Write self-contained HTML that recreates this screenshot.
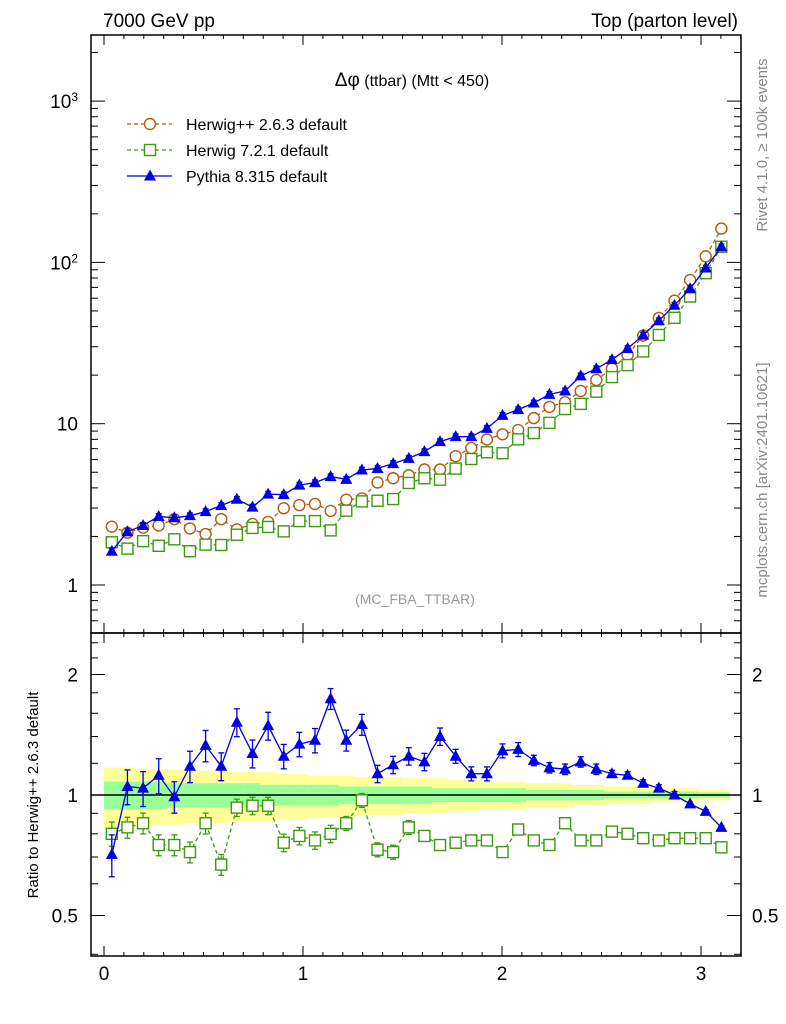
<!DOCTYPE html>
<html><head><meta charset="utf-8"><style>
body{margin:0;background:#fff;}
svg{display:block;font-family:"Liberation Sans",Arial,sans-serif;}
</style></head><body>
<svg id="chart" width="786" height="1024" viewBox="0 0 786 1024"></svg>
<script>
// ---- data ----
const nBins = 40;
const herwigPP = [2.30,2.11,2.27,2.34,2.56,2.24,2.07,2.56,2.21,2.39,2.46,2.99,3.13,3.18,2.88,3.38,3.44,4.32,4.59,4.79,5.20,5.20,6.29,7.06,7.98,8.60,9.13,10.83,12.71,13.59,15.96,18.67,21.97,26.60,35.21,45.26,57.91,77.74,109.0,162.0];
const herwig7 = [1.84,1.68,1.87,1.75,1.92,1.62,1.78,1.77,2.05,2.26,2.29,2.15,2.49,2.49,2.18,2.89,3.30,3.33,3.41,4.29,4.59,4.50,5.27,6.04,6.65,6.56,8.00,8.75,10.12,12.32,13.27,15.80,19.45,23.09,28.05,35.48,45.33,61.47,85.79,125.0];
const pythia = [1.62,2.14,2.34,2.66,2.61,2.69,2.85,3.11,3.40,3.04,3.66,3.63,4.16,4.31,4.70,4.52,5.16,5.28,5.66,6.10,6.71,7.74,8.31,8.31,9.35,11.26,12.22,13.44,15.21,15.96,19.78,21.93,24.95,29.23,35.43,43.45,54.26,68.67,92.24,125.0];
const ratioPythia = [0.71,1.05,1.04,1.12,0.99,1.18,1.33,1.18,1.52,1.27,1.49,1.25,1.34,1.37,1.74,1.37,1.50,1.13,1.19,1.25,1.21,1.40,1.25,1.13,1.13,1.29,1.30,1.22,1.17,1.16,1.21,1.16,1.13,1.12,1.07,1.04,1.00,0.95,0.91,0.83];
const ratioHerwig7 = [0.80,0.83,0.85,0.75,0.75,0.72,0.85,0.67,0.93,0.94,0.94,0.76,0.79,0.77,0.80,0.85,0.97,0.73,0.72,0.83,0.79,0.75,0.76,0.77,0.77,0.72,0.82,0.77,0.75,0.85,0.77,0.77,0.81,0.80,0.78,0.77,0.78,0.78,0.78,0.74];
const errPythia = [0.12,0.10,0.10,0.10,0.09,0.09,0.09,0.08,0.08,0.08,0.08,0.07,0.07,0.07,0.06,0.06,0.06,0.05,0.05,0.05,0.05,0.05,0.04,0.04,0.04,0.04,0.04,0.03,0.03,0.03,0.03,0.03,0.02,0.02,0.02,0.02,0.02,0.01,0.01,0.01];
const errHerwig7 = [0.07,0.06,0.06,0.06,0.06,0.06,0.06,0.06,0.05,0.05,0.05,0.05,0.05,0.05,0.05,0.04,0.04,0.04,0.04,0.04,0.03,0.03,0.03,0.03,0.03,0.03,0.03,0.02,0.02,0.02,0.02,0.02,0.02,0.02,0.01,0.01,0.01,0.01,0.01,0.01];
const bandYellow = [0.17,0.17,0.16,0.16,0.16,0.15,0.15,0.15,0.14,0.14,0.14,0.13,0.13,0.12,0.12,0.12,0.11,0.11,0.11,0.10,0.10,0.10,0.09,0.09,0.08,0.08,0.08,0.07,0.07,0.07,0.06,0.06,0.05,0.05,0.05,0.04,0.04,0.04,0.03,0.03];
const bandGreen = [0.08,0.08,0.08,0.08,0.07,0.07,0.07,0.07,0.07,0.07,0.06,0.06,0.06,0.06,0.06,0.05,0.05,0.05,0.05,0.05,0.05,0.04,0.04,0.04,0.04,0.04,0.04,0.03,0.03,0.03,0.03,0.03,0.02,0.02,0.02,0.02,0.02,0.02,0.015,0.015];
const xTicks = [0,1,2,3];
const mainTicks = [1,10,100,1000];
const mainTickLabels = ["1","10","10<tspan dy='-7' font-size='12'>2</tspan>","10<tspan dy='-7' font-size='12'>3</tspan>"];
const ratioTicks = [0.5,1,2];

// ---- geometry ----
const L=91,R=741,T1=35,B1=633,T2=633,B2=956;
const X=v=>104+v*199;
const YM=v=>585-Math.log10(v)*161.3;
const YR=v=>795-Math.log2(v)*120.5;
const binW=Math.PI/nBins;
const ctr=i=>(i+0.5)*binW;

const svg=document.getElementById('chart');
const NS='http://www.w3.org/2000/svg';
function el(tag,attrs,parent){const e=document.createElementNS(NS,tag);for(const k in attrs)e.setAttribute(k,attrs[k]);(parent||svg).appendChild(e);return e;}

// clip paths
const defs=el('defs',{});
const c1=el('clipPath',{id:'c1'},defs);el('rect',{x:L,y:T1,width:R-L,height:B1-T1},c1);
const c2=el('clipPath',{id:'c2'},defs);el('rect',{x:L,y:T2,width:R-L,height:B2-T2},c2);

// bands
const gb=el('g',{'clip-path':'url(#c2)'});


for(let i=0;i<nBins;i++){
  const x0=X(i*binW),x1=X((i+1)*binW)+0.5;
  const y=el('rect',{x:x0,y:YR(1+bandYellow[i]),width:x1-x0,height:YR(1-bandYellow[i])-YR(1+bandYellow[i]),fill:'#ffff99'},gb);
  
  
  const g=el('rect',{x:x0,y:YR(1+bandGreen[i]),width:x1-x0,height:YR(1-bandGreen[i])-YR(1+bandGreen[i]),fill:'#99ff99'},gb);
  
  
}
el('line',{x1:L,x2:R,y1:YR(1),y2:YR(1),stroke:'#000','stroke-width':1.5});

// series drawing
function series(vals,errs,Y,clip,color,dash,marker,name){
  const g=el('g',{'clip-path':clip});
  
  
  const pts=vals.map((v,i)=>X(ctr(i))+','+Y(v)).join(' ');
  const pl=el('polyline',{points:pts,fill:'none',stroke:color,'stroke-width':1.3},g);
  if(dash)pl.setAttribute('stroke-dasharray',dash);
  
  
  vals.forEach((v,i)=>{
    const x=X(ctr(i)),y=Y(v);
    if(errs){
      const e=errs[i];
      const ya=Y(v*(1+e)),yb=Y(v*(1-e));
      el('line',{x1:x,x2:x,y1:ya,y2:yb,stroke:color,'stroke-width':1.3},g);
      el('line',{x1:x-3,x2:x+3,y1:ya,y2:ya,stroke:color,'stroke-width':1.3},g);
      el('line',{x1:x-3,x2:x+3,y1:yb,y2:yb,stroke:color,'stroke-width':1.3},g);
    }
    let m;
    if(marker==='circle')m=el('circle',{cx:x,cy:y,r:5.5,fill:'#fff',stroke:color,'stroke-width':1.4},g);
    else if(marker==='square')m=el('rect',{x:x-5.5,y:y-5.5,width:11,height:11,fill:'#fff',stroke:color,'stroke-width':1.4},g);
    else m=el('polygon',{points:`${x},${y-6.5} ${x-6},${y+4.5} ${x+6},${y+4.5}`,fill:color},g);
    
    
  });
}
const cH='#b05a10',cG='#3a9a10',cP='#0000e0';
series(herwigPP,null,YM,'url(#c1)',cH,'4,3','circle','herwigpp-main');
series(herwig7,null,YM,'url(#c1)',cG,'4,3','square','herwig7-main');
series(pythia,pythia.map(()=>0.04),YM,'url(#c1)',cP,null,'triangle','pythia-main');
series(ratioHerwig7,errHerwig7,YR,'url(#c2)',cG,'4,3','square','herwig7-ratio');
series(ratioPythia,errPythia,YR,'url(#c2)',cP,null,'triangle','pythia-ratio');

// frames
el('rect',{x:L,y:T1,width:R-L,height:B1-T1,fill:'none',stroke:'#000','stroke-width':1.5});
el('rect',{x:L,y:T2,width:R-L,height:B2-T2,fill:'none',stroke:'#000','stroke-width':1.5});

// x ticks
function xticks(yb,yt){
  for(let k=0;k<=32;k++){
    const v=k/10,x=X(v);if(x>R)continue;
    const len=(k%10===0)?10:4;
    el('line',{x1:x,x2:x,y1:yb,y2:yb-len,stroke:'#000','stroke-width':1});
    el('line',{x1:x,x2:x,y1:yt,y2:yt+len,stroke:'#000','stroke-width':1});
  }
}
xticks(B1,T1);xticks(B2,T2);
xTicks.forEach(v=>{const t=el('text',{x:X(v),y:980,'font-size':19,'text-anchor':'middle'});t.textContent=v;
  
  });

// main y ticks
for(let d=-1;d<=3;d++){for(let m=1;m<10;m++){const v=m*Math.pow(10,d);const y=YM(v);if(y<T1||y>B1)continue;
  const len=m===1?14:7;
  el('line',{x1:L,x2:L+len,y1:y,y2:y,stroke:'#000','stroke-width':1});
  el('line',{x1:R,x2:R-len,y1:y,y2:y,stroke:'#000','stroke-width':1});}}
mainTicks.forEach((v,i)=>{const t=el('text',{x:78,y:YM(v)+7,'font-size':19,'text-anchor':'end'});t.innerHTML=mainTickLabels[i];
  
  });

// ratio y ticks
[0.4,0.5,0.6,0.7,0.8,0.9,1,1.2,1.4,1.6,1.8,2,2.2,2.4].forEach(v=>{const y=YR(v);const len=ratioTicks.includes(v)?14:7;
  el('line',{x1:L,x2:L+len,y1:y,y2:y,stroke:'#000','stroke-width':1});
  el('line',{x1:R,x2:R-len,y1:y,y2:y,stroke:'#000','stroke-width':1});});
ratioTicks.forEach(v=>{
  const t=el('text',{x:78,y:YR(v)+7,'font-size':19,'text-anchor':'end'});t.textContent=v;
  
  
  const t2=el('text',{x:752,y:YR(v)+7,'font-size':19,'text-anchor':'start'});t2.textContent=v;
  
  
});
</script>
<svg width="786" height="1024" style="position:absolute;left:0;top:0">
<text x="103" y="27" font-size="19" font-family="Liberation Sans,sans-serif">7000 GeV pp</text>
<text x="738" y="27" font-size="19" text-anchor="end" font-family="Liberation Sans,sans-serif">Top (parton level)</text>
<text x="412" y="86" font-size="16" text-anchor="middle" font-family="Liberation Sans,sans-serif"><tspan font-size="19">Δφ</tspan> (ttbar) (Mtt &lt; 450)</text>
<g font-family="Liberation Sans,sans-serif" font-size="16">
 <g>
  <line x1="127" x2="172" y1="124" y2="124" stroke="#b05a10" stroke-width="1.3" stroke-dasharray="4,3"/>
  <circle cx="150" cy="124" r="5.5" fill="#fff" stroke="#b05a10" stroke-width="1.4"/>
  <text x="186" y="130">Herwig++ 2.6.3 default</text></g>
 <g>
  <line x1="127" x2="172" y1="150" y2="150" stroke="#3a9a10" stroke-width="1.3" stroke-dasharray="4,3"/>
  <rect x="144.5" y="144.5" width="11" height="11" fill="#fff" stroke="#3a9a10" stroke-width="1.4"/>
  <text x="186" y="156">Herwig 7.2.1 default</text></g>
 <g>
  <line x1="127" x2="172" y1="176" y2="176" stroke="#0000e0" stroke-width="1.3"/>
  <polygon points="150,169.5 144,180.5 156,180.5" fill="#0000e0"/>
  <text x="186" y="182">Pythia 8.315 default</text></g>
</g>
<text x="415" y="604" font-size="14" fill="#999" text-anchor="middle" font-family="Liberation Sans,sans-serif">(MC_FBA_TTBAR)</text>
<text transform="translate(38,795) rotate(-90)" font-size="15" text-anchor="middle" font-family="Liberation Sans,sans-serif">Ratio to Herwig++ 2.6.3 default</text>
<text transform="translate(767,145) rotate(-90)" font-size="15" fill="#888" text-anchor="middle" font-family="Liberation Sans,sans-serif">Rivet 4.1.0, ≥ 100k events</text>
<text transform="translate(767,480) rotate(-90)" font-size="15" fill="#888" text-anchor="middle" font-family="Liberation Sans,sans-serif">mcplots.cern.ch [arXiv:2401.10621]</text>
</svg>
</body></html>
